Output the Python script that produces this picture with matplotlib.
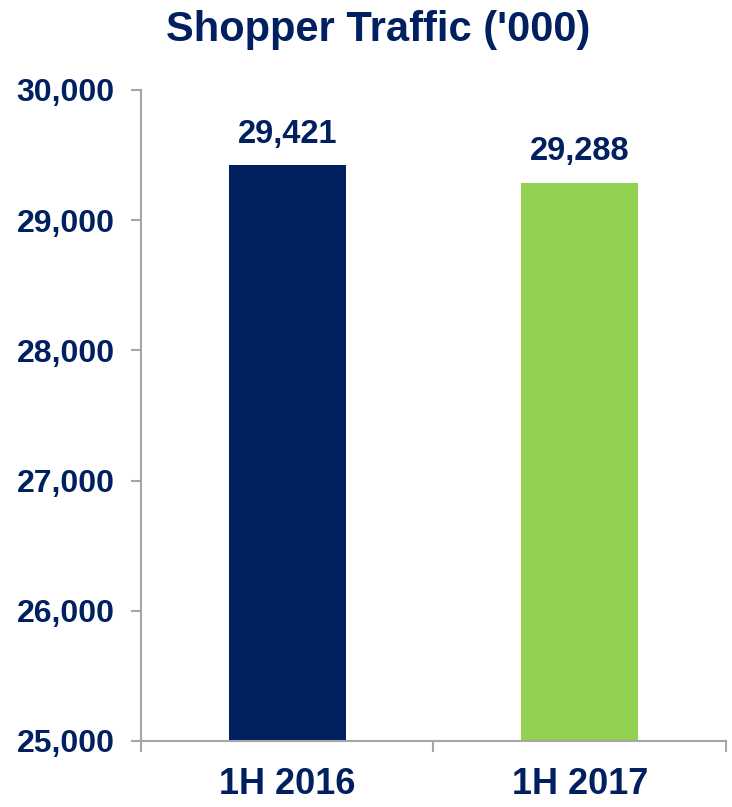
import matplotlib.pyplot as plt
from matplotlib.ticker import FuncFormatter, FixedLocator

periods = ['1H 2016', '1H 2017']
traffic = [29421, 29288]
y_ticks = [25000, 26000, 27000, 28000, 29000, 30000]

NAVY = '#002060'
GREEN = '#92D050'
GRID_GRAY = '#A6A6A6'

plt.rcParams['font.family'] = ['Liberation Sans', 'DejaVu Sans']
plt.rcParams['font.weight'] = 'bold'

fig = plt.figure(figsize=(7.32, 8.07), dpi=100)
ax = fig.add_axes([0.1926, 0.0818, 0.7992, 0.8067])

x = range(len(periods))
bars = ax.bar(x, traffic, width=0.4, color=[NAVY, GREEN])

for rect, val in zip(bars, traffic):
    ax.annotate(f'{val:,}', (rect.get_x() + rect.get_width() / 2, val),
                xytext=(0, 11), textcoords='offset points',
                ha='center', va='bottom', fontsize=23.5,
                fontweight='bold', color=NAVY)

ax.set_xlim(-0.5, 1.5)
ax.set_ylim(25000, 30000)
ax.set_yticks(y_ticks)
ax.yaxis.set_major_formatter(FuncFormatter(lambda v, _: f'{int(v):,}'))

# category labels in the middle, tick marks on the boundaries
ax.set_xticks([0, 1])
ax.set_xticklabels(periods, fontsize=26, fontweight='bold', color=NAVY)
ax.xaxis.set_minor_locator(FixedLocator([-0.5, 0.5, 1.5]))
ax.tick_params(axis='x', which='major', length=0, pad=19)
ax.tick_params(axis='x', which='minor', length=8, width=1.5, color=GRID_GRAY)
ax.tick_params(axis='y', length=7, width=1.5, color=GRID_GRAY, pad=12,
               labelsize=23, labelcolor=NAVY)
for lbl in ax.get_yticklabels():
    lbl.set_fontweight('bold')

for side in ('top', 'right'):
    ax.spines[side].set_visible(False)
for side in ('left', 'bottom'):
    ax.spines[side].set_color(GRID_GRAY)
    ax.spines[side].set_linewidth(1.5)

fig.text(0.516, 0.963, "Shopper Traffic ('000)", ha='center', va='center',
         fontsize=30, fontweight='bold', color=NAVY)

fig.savefig('out.png', dpi=100)
